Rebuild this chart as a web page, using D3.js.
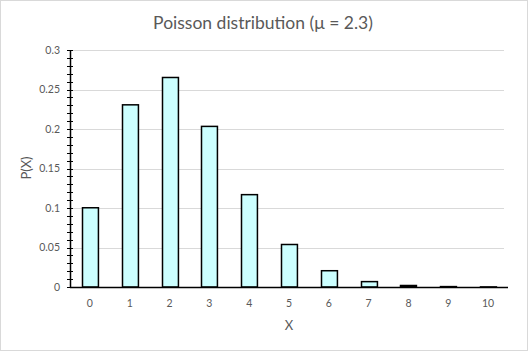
<!DOCTYPE html>
<html>
<head>
<meta charset="utf-8">
<script src="https://d3js.org/d3.v7.min.js"></script>
<style>
  body { margin: 0; background: #fff; }
  text { font-family: Lato, "Open Sans", sans-serif; fill: #595959; }
</style>
</head>
<body>
<script>
const categories = ["0", "1", "2", "3", "4", "5", "6", "7", "8", "9", "10"];
const probs = [0.1003, 0.2306, 0.2652, 0.2033, 0.1169, 0.0538, 0.0206, 0.0068, 0.0019, 0.0005, 0.0001];
const yTicks = [0, 0.05, 0.1, 0.15, 0.2, 0.25, 0.3];
const yTickLabels = ["0", "0.05", "0.1", "0.15", "0.2", "0.25", "0.3"];

const w = 528, h = 351;
const mLeft = 70, mRight = 508, mTop = 50, mBottom = 287;

const svg = d3.select("body").append("svg").attr("width", w).attr("height", h);

svg.append("rect")
  .attr("x", 0.5).attr("y", 0.5).attr("width", w - 1).attr("height", h - 1)
  .attr("fill", "#fff").attr("stroke", "#d9d9d9");

const x = d3.scaleBand().domain(categories).range([mLeft, mRight]).paddingInner(0.6).paddingOuter(0.3);
const y = d3.scaleLinear().domain([0, 0.3]).range([mBottom, mTop]);

// gridlines
svg.append("g").selectAll("line").data(yTicks.slice(1)).enter().append("line")
  .attr("x1", mLeft).attr("x2", mRight - 4)
  .attr("y1", d => Math.round(y(d)) + 0.5).attr("y2", d => Math.round(y(d)) + 0.5)
  .attr("stroke", "#d9d9d9");

// bars
svg.append("g").selectAll("rect").data(probs).enter().append("rect")
  .attr("x", (d, i) => Math.round(x(categories[i])) + 0.5)
  .attr("y", d => y(d))
  .attr("width", x.bandwidth())
  .attr("height", d => mBottom - y(d))
  .attr("fill", "#ccffff").attr("stroke", "#000").attr("stroke-width", 1.5);

// y axis with minor ticks
const minor = d3.range(0, 0.3001, 0.01);
svg.append("g").selectAll("line").data(minor).enter().append("line")
  .attr("x1", mLeft - 3).attr("x2", mLeft + 3)
  .attr("y1", d => Math.round(y(d)) + 0.5).attr("y2", d => Math.round(y(d)) + 0.5)
  .attr("stroke", "#000").attr("stroke-width", 1);
svg.append("line")
  .attr("x1", mLeft + 0.5).attr("x2", mLeft + 0.5).attr("y1", mTop).attr("y2", mBottom)
  .attr("stroke", "#000").attr("stroke-width", 1.5);
svg.append("g").selectAll("text").data(yTicks).enter().append("text")
  .attr("x", mLeft - 10).attr("y", d => y(d)).attr("dy", "0.35em")
  .attr("text-anchor", "end").attr("font-size", 10.5)
  .text((d, i) => yTickLabels[i]);

// x axis
svg.append("line")
  .attr("x1", mLeft).attr("x2", mRight).attr("y1", mBottom + 0.5).attr("y2", mBottom + 0.5)
  .attr("stroke", "#000").attr("stroke-width", 1.5);
svg.append("g").selectAll("text").data(categories).enter().append("text")
  .attr("x", d => x(d) + x.bandwidth() / 2).attr("y", 307)
  .attr("text-anchor", "middle").attr("font-size", 10.5)
  .text(d => d);

// titles
svg.append("text").attr("x", 263).attr("y", 29).attr("text-anchor", "middle")
  .attr("font-size", 17.5).text("Poisson distribution (μ = 2.3)");
svg.append("text").attr("x", 289).attr("y", 330).attr("text-anchor", "middle")
  .attr("font-size", 13).text("X");
svg.append("text").attr("transform", "translate(31,168) rotate(-90)")
  .attr("text-anchor", "middle").attr("font-size", 13).text("P(X)");
</script>
</body>
</html>
